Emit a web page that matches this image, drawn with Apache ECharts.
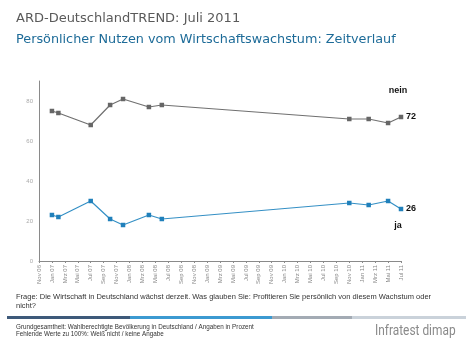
<!DOCTYPE html>
<html><head><meta charset="utf-8">
<script src="https://cdn.jsdelivr.net/npm/echarts@6/dist/echarts.min.js"></script>
<style>html,body{margin:0;padding:0;background:#fff}#c{width:470px;height:353px}</style>
</head><body><div id="c"></div>
<script>
var categories = ['Nov 06','Dez 06','Jan 07','Feb 07','Mrz 07','Apr 07','Mai 07','Jun 07','Jul 07','Aug 07','Sep 07','Okt 07','Nov 07','Dez 07',
'Jan 08','Feb 08','Mrz 08','Apr 08','Mai 08','Jun 08','Jul 08','Aug 08','Sep 08','Okt 08','Nov 08','Dez 08',
'Jan 09','Feb 09','Mrz 09','Apr 09','Mai 09','Jun 09','Jul 09','Aug 09','Sep 09','Okt 09','Nov 09','Dez 09',
'Jan 10','Feb 10','Mrz 10','Apr 10','Mai 10','Jun 10','Jul 10','Aug 10','Sep 10','Okt 10','Nov 10','Dez 10',
'Jan 11','Feb 11','Mrz 11','Apr 11','Mai 11','Jun 11','Jul 11'];
var surveyMonths = ['Jan 07','Feb 07','Jul 07','Okt 07','Dez 07','Apr 08','Jun 08','Nov 10','Feb 11','Mai 11','Jul 11'];
var neinValues = [75,74,68,78,81,77,78,71,71,69,72];
var jaValues = [23,22,30,21,18,23,21,29,28,30,26];
var yTicks = [0,20,40,60,80];

function buildData(vals, name, pos, dist){
  return surveyMonths.map(function(m,i){
    var d = {value:[m, vals[i]]};
    if(i === surveyMonths.length-1){
      d.label = {show:true, position:pos, distance:dist, formatter:name, fontWeight:'bold', fontSize:9, color:'#111', fontFamily:'Liberation Sans, Arial, sans-serif', offset:[-3,0]};
    }
    return d;
  });
}

var chart = echarts.init(document.getElementById('c'), null, {renderer:'canvas'});
var ff = 'Liberation Sans, Arial, sans-serif';
chart.setOption({
  animation:false,
  backgroundColor:'#fff',
  grid:{left:39, right:69, top:81, bottom:92, containLabel:false},
  xAxis:{type:'category', data:categories, boundaryGap:false,
    axisLine:{lineStyle:{color:'#8a8a8a', width:1}},
    axisTick:{show:true, interval:1, length:2, lineStyle:{color:'#8a8a8a'}},
    axisLabel:{interval:1, rotate:90, fontSize:6, color:'#888', fontFamily:ff, margin:4}},
  yAxis:{type:'value', min:0, max:90, interval:20,
    axisLine:{show:true, lineStyle:{color:'#8a8a8a', width:1}},
    axisTick:{show:false}, splitLine:{show:false},
    axisLabel:{fontSize:6, color:'#aaa', fontFamily:ff, margin:6, showMaxLabel:false,
      formatter:function(v){return yTicks.indexOf(v)>=0 ? String(v) : '';}}},
  series:[
    {name:'nein', type:'line', data:buildData(neinValues,'nein','top',20),
     symbol:'rect', symbolSize:4.5, showAllSymbol:true, lineStyle:{color:'#707070', width:1.2}, itemStyle:{color:'#666'},
     endLabel:{show:true, formatter:function(p){return p.value[1];}, fontWeight:'bold', fontSize:9, color:'#111', fontFamily:ff, distance:5}},
    {name:'ja', type:'line', data:buildData(jaValues,'ja','bottom',10),
     symbol:'rect', symbolSize:4.5, showAllSymbol:true, lineStyle:{color:'#3590c5', width:1.2}, itemStyle:{color:'#2080bb'},
     endLabel:{show:true, formatter:function(p){return p.value[1];}, fontWeight:'bold', fontSize:9, color:'#111', fontFamily:ff, distance:5}}
  ],
  graphic:[
    {type:'text', left:16, top:12, style:{text:'ARD-DeutschlandTREND: Juli 2011', fontSize:13, fill:'#5a5a5a', fontFamily:'DejaVu Sans, Verdana, sans-serif'}},
    {type:'text', left:16, top:33, style:{text:'Persönlicher Nutzen vom Wirtschaftswachstum: Zeitverlauf', fontSize:12.8, fill:'#1d6b98', fontFamily:'DejaVu Sans, Verdana, sans-serif'}},
    {type:'text', left:16, top:292, style:{text:'Frage: Die Wirtschaft in Deutschland wächst derzeit. Was glauben Sie: Profitieren Sie persönlich von diesem Wachstum oder\nnicht?', fontSize:7.5, lineHeight:9, fill:'#333', fontFamily:ff}},
    {type:'rect', shape:{x:7, y:316, width:123, height:3}, style:{fill:'#3e5a7a'}},
    {type:'rect', shape:{x:130, y:316, width:142, height:3}, style:{fill:'#3c9ad1'}},
    {type:'rect', shape:{x:272, y:316, width:80, height:3}, style:{fill:'#a3abb4'}},
    {type:'rect', shape:{x:352, y:316, width:114, height:3}, style:{fill:'#cad2da'}},
    {type:'text', left:16, top:324, style:{text:'Grundgesamtheit: Wahlberechtigte Bevölkerung in Deutschland / Angaben in Prozent\nFehlende Werte zu 100%: Weiß nicht / keine Angabe', fontSize:6.3, lineHeight:7, fill:'#333', fontFamily:ff}},
    {type:'text', x:375, y:324, scaleX:0.85, style:{text:'Infratest dimap', fontSize:14, fill:'#8a8a8a', fontFamily:'Roboto, Liberation Sans, sans-serif'}}
  ]
});
</script></body></html>
